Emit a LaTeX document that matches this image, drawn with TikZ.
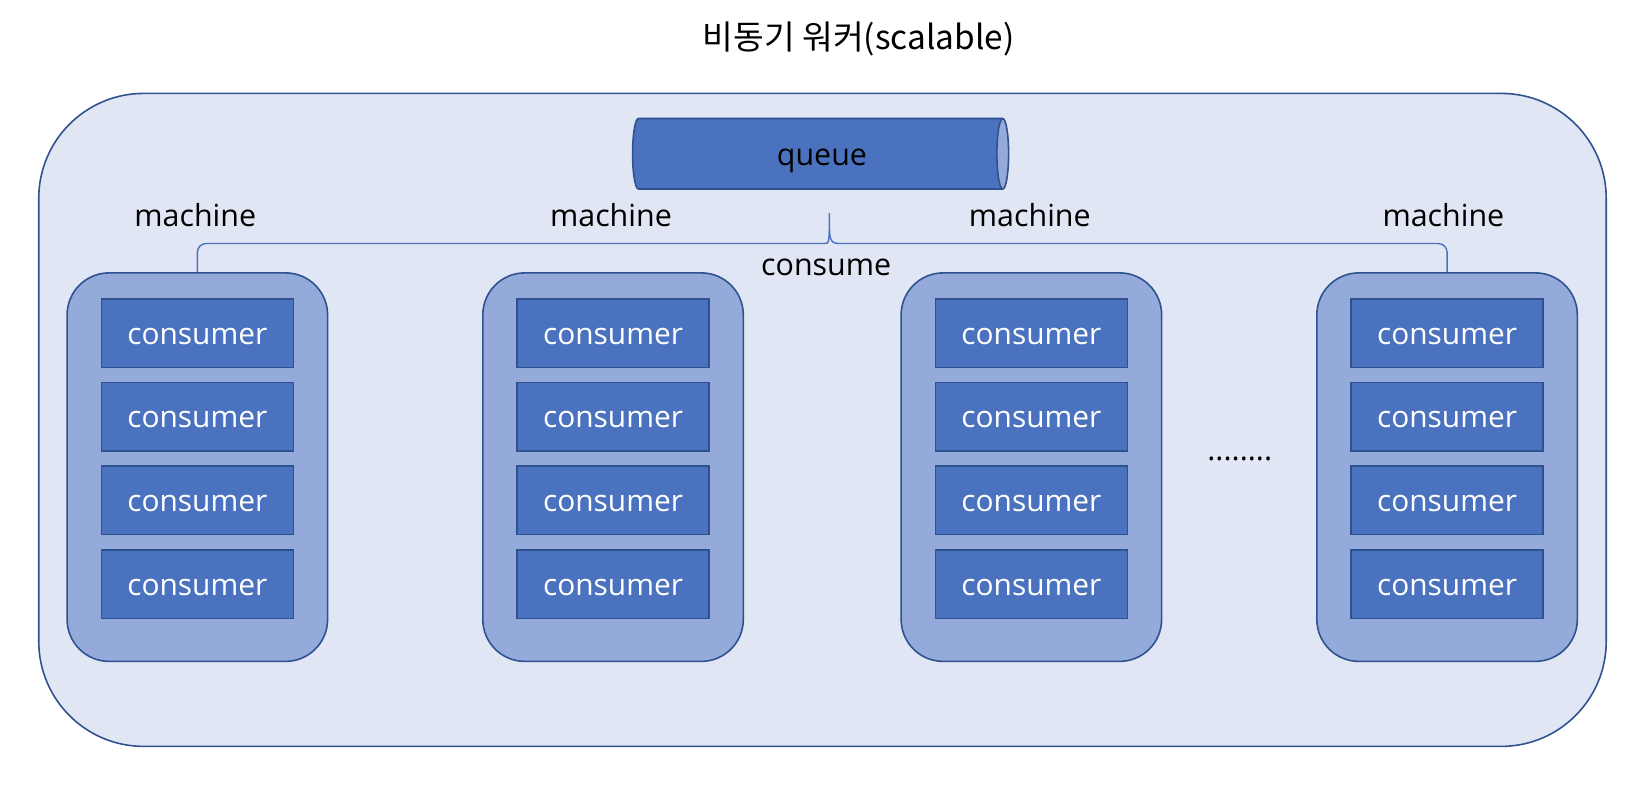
\documentclass[tikz,border=0pt]{standalone}
\usepackage{fontspec}
\setmainfont{Open Sans}
\newfontfamily\krfont{Noto Sans CJK KR}
\usetikzlibrary{shapes.geometric}
\definecolor{edge}{HTML}{2F528F}
\definecolor{pale}{HTML}{E0E6F3}
\definecolor{mid}{HTML}{93AADA}
\definecolor{deep}{HTML}{4A72BE}
\begin{document}
\begin{tikzpicture}[x=0.021cm,y=-0.021cm,
    outerbox/.style={draw=edge,fill=pale,line width=0.9pt,rounded corners=2.1cm,minimum width=31.35cm,minimum height=13.06cm},
    machinebox/.style={draw=edge,fill=mid,line width=0.9pt,rounded corners=0.84cm,minimum width=5.21cm,minimum height=7.77cm},
    worker/.style={draw=edge,fill=deep,line width=0.9pt,minimum width=3.84cm,minimum height=1.365cm,text height=12.5pt,text depth=0pt,text=white,font=\fontsize{17}{20}\selectfont},
    lbl/.style={font=\fontsize{17.3}{20}\selectfont},
    brace/.style={draw=deep,line width=0.8pt}]
  \useasboundingbox (0,0) rectangle (1568,760);
  \node[font=\krfont\fontsize{19}{22}\selectfont] (title) at (818,37) {비동기 워커(scalable)};
  \node[outerbox] (outer) at (783.5,400) {};
  \node[cylinder, draw=edge, line width=0.9pt, shape aspect=1, minimum height=7.52cm, minimum width=1.41cm,
        cylinder uses custom fill, cylinder body fill=deep, cylinder end fill=mid] (pipe) at (777,146.5) {};
  \node[lbl] (queue) at (783,153) {queue};
  \foreach \i/\x/\lx in {1/188/186, 2/584/582, 3/982.5/981, 4/1378.5/1375} {
    \node[machinebox] (m\i) at (\x,445) {};
    \node[lbl] (lm\i) at (\lx,205) {machine};
    \foreach \j/\y in {1/317.5, 2/397, 3/476.5, 4/556.5}
      \node[worker] (c\i\j) at (\x,\y) {consumer};
  }
  \coordinate (bar) at (790,232);
  \coordinate (tip) at (790,203);
  \draw[brace] (m1.north) [rounded corners=5pt] |- ([xshift=-8pt]bar) [sharp corners] .. controls (bar) .. (tip)
    .. controls (bar) .. ([xshift=8pt]bar) [rounded corners=5pt] -| (m4.north);
  \node[lbl] (consume) at (787,255) {consume};
  \node[lbl] (dots) at (1181,437) {........};
\end{tikzpicture}
\end{document}
